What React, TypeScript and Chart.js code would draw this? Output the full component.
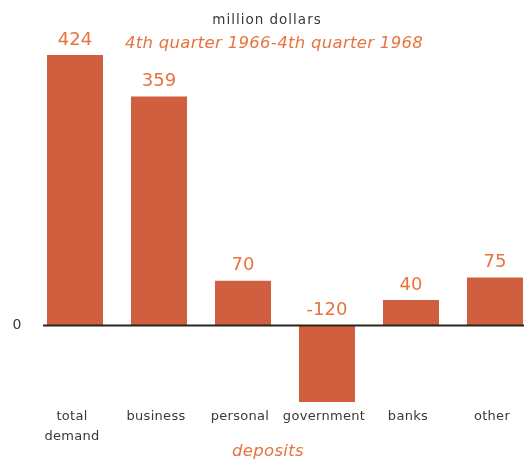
import React, { useEffect, useRef } from "react";
import { Chart, registerables } from "chart.js";

Chart.register(...registerables);

const categories: string[][] = [["total", "demand"], ["business"], ["personal"], ["government"], ["banks"], ["other"]];
const values: number[] = [424, 359, 70, -120, 40, 75];
const valueLabels: string[] = ["424", "359", "70", "-120", "40", "75"];
const titleText = "million dollars";
const subtitleText = "4th quarter 1966-4th quarter 1968";
const axisTitle = "deposits";
const zeroLabel = "0";

const BAR = "#cf5f3f";
const ORANGE = "#e7733f";
const DARK = "#3a3a32";
const FONT = "'DejaVu Sans', sans-serif";

const overlay = {
  id: "overlay",
  afterDatasetsDraw(chart: any) {
    const { ctx, scales } = chart;
    const x = scales.x;
    const y = scales.y;
    const y0 = y.getPixelForValue(0);
    ctx.save();
    // zero line
    ctx.strokeStyle = "#26261f";
    ctx.lineWidth = 2;
    ctx.beginPath();
    ctx.moveTo(43, y0);
    ctx.lineTo(chart.width, y0);
    ctx.stroke();
    ctx.textAlign = "center";
    ctx.textBaseline = "middle";
    // zero label
    ctx.fillStyle = DARK;
    ctx.font = `14px ${FONT}`;
    ctx.fillText(zeroLabel, 17, y0);
    // value labels
    ctx.fillStyle = ORANGE;
    ctx.font = `18px ${FONT}`;
    values.forEach((v, i) => {
      const px = x.getPixelForValue(i);
      const top = y.getPixelForValue(Math.max(v, 0));
      ctx.fillText(valueLabels[i], px, top - 15);
    });
    // category labels
    ctx.fillStyle = DARK;
    ctx.font = `13px ${FONT}`;
    (ctx as any).letterSpacing = "0.3px";
    categories.forEach((lines, i) => {
      const px = x.getPixelForValue(i) - 3;
      lines.forEach((t, j) => ctx.fillText(t, px, 417 + j * 20));
    });
    // titles
    ctx.font = `13.5px ${FONT}`;
    (ctx as any).letterSpacing = "1px";
    ctx.fillText(titleText, 267, 20);
    ctx.fillStyle = ORANGE;
    ctx.font = `italic 16.5px ${FONT}`;
    (ctx as any).letterSpacing = "0.3px";
    ctx.fillText(subtitleText, 274, 44);
    ctx.fillText(axisTitle, 268, 452);
    ctx.restore();
  },
};

export default function App() {
  const ref = useRef<HTMLCanvasElement>(null);
  useEffect(() => {
    if (!ref.current) return;
    const chart = new Chart(ref.current, {
      type: "bar",
      data: {
        labels: categories.map((c) => c.join(" ")),
        datasets: [
          {
            data: values,
            backgroundColor: BAR,
            borderWidth: 0,
            barPercentage: 0.667,
            categoryPercentage: 1,
            clip: false as any,
          },
        ],
      },
      options: {
        animation: false,
        responsive: false,
        maintainAspectRatio: false,
        layout: { padding: { left: 75, right: 29, top: 55, bottom: 59 } },
        plugins: { legend: { display: false }, tooltip: { enabled: false }, title: { display: false } },
        scales: {
          x: { display: false, offset: false, grid: { display: false } },
          y: { display: false, min: -120, max: 424, grid: { display: false } },
        },
      },
      plugins: [overlay],
    });
    return () => chart.destroy();
  }, []);
  return (
    <div style={{ position: "absolute", left: 0, top: 0, width: 524, height: 461, background: "#fff" }}>
      <canvas ref={ref} width={524} height={461} style={{ width: 524, height: 461 }} />
    </div>
  );
}
